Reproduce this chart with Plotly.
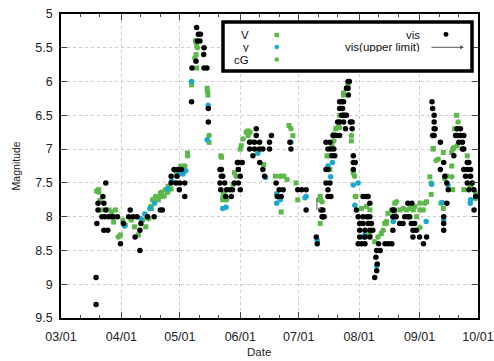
import pandas as pd
import plotly.graph_objects as go

BASE = "2021-03-01"
MONTH_TICKS = ["2021-03-01", "2021-04-01", "2021-05-01", "2021-06-01",
               "2021-07-01", "2021-08-01", "2021-09-01", "2021-10-01"]
MINOR_TICKS = [f"2021-{m:02d}-{d}" for m in range(3, 10) for d in (11, 21)]
Y_TICKS = [5, 5.5, 6, 6.5, 7, 7.5, 8, 8.5, 9, 9.5]

# day offsets from 03/01 and magnitudes
vis_day = [18, 18, 23, 19, 19, 21.5, 22, 23, 21, 22.5, 24.5, 26, 18.4, 22, 24, 27, 29, 30.5, 32,
           35.5, 34.7, 37, 38, 40.5, 40.5, 41, 39, 44.4, 47.8, 51, 52, 56.5, 56.5, 59, 61, 63.5,
           60.7, 61.8, 63.5, 60, 58, 59.5,
           69.6, 70.5, 71.5, 70, 71.3, 73.4, 73.2, 69.3, 67.2, 73.4, 74.9, 67, 75.6, 75.6,
           81.6, 81.6, 82, 83, 84, 85, 86.6, 84.5, 87.4, 88, 82.3, 82.3, 89, 91, 90.5, 91, 92, 93, 91, 92,
           100.2, 100.2, 96.8, 99.3, 101.9, 96.8, 99.3, 101.9, 103.6, 98.5, 102, 103.6, 104.5, 108, 107,
           107, 110.4, 112, 114, 111, 113, 118, 117.5, 121.5, 123.5, 125.8, 125.8, 133.4, 134, 135, 131,
           131.5,
           136, 138, 137, 138.5, 140, 139.6, 141.3, 143, 139, 140.5, 136, 137, 136, 138, 137, 137, 138.5,
           134.4, 134.4, 142, 143, 143, 144, 145, 143, 144.5, 145, 146.5, 144, 145.5, 145, 146, 147.5,
           147.3, 148, 147.3, 146.5, 148.5, 149.4, 149.4, 150, 150, 150, 151,
           151.6, 152.5, 155, 157, 158.5, 153.3, 155, 157.6, 159.3, 153.3, 156, 158.5, 160, 153.3, 156,
           158.5, 152.5, 154.2, 156, 155, 156.7, 157.6, 158.5, 162, 161.6, 162.3, 162, 161, 163, 163.8,
           166.3, 168, 169.8, 170.3, 170.3, 170.3, 171, 172, 173.8, 175.5, 176.4, 178, 179, 178, 179.8,
           181.5, 180.6, 182.3, 180.6, 184, 186, 187.6, 180,
           190.4, 190.7, 191.5, 191.5, 192, 191.5, 190.7, 191.5, 194.7, 194.7, 196.4, 197, 198, 198.7,
           196.4, 196.4, 196.4, 198, 201.6, 202.5, 203.3, 205, 206.7, 203.3, 205, 204.2, 206, 206, 206.7,
           208.5, 209.3, 206.7, 208.5, 210.2, 207.6, 210.2, 208.5, 211, 209.3, 211.9, 212.8, 212]
vis_mag = [8.9, 9.3, 7.5, 7.8, 7.9, 7.7, 7.8, 7.9, 8.0, 8.0, 8.0, 8.0, 8.1, 8.2, 8.2, 8.0, 8.0, 8.4, 8.1,
           7.9, 8.0, 8.0, 8.3, 8.2, 8.5, 8.1, 8.0, 8.0, 8.0, 7.9, 7.9, 7.4, 7.5, 7.5, 7.5, 7.5,
           7.6, 7.3, 7.7, 7.3, 7.3, 7.4,
           5.2, 5.3, 5.3, 5.4, 5.4, 5.5, 5.6, 5.7, 5.8, 5.8, 5.8, 6.3, 6.4, 6.6,
           7.3, 7.5, 7.6, 7.4, 7.5, 7.6, 7.6, 7.7, 7.7, 7.6, 7.3, 7.4, 7.5, 7.5, 7.2, 7.3, 7.4, 7.2, 7.2, 7.6,
           6.7, 6.8, 6.9, 6.9, 6.9, 7.0, 7.0, 7.0, 7.0, 7.1, 7.2, 7.3, 7.4, 6.8, 6.9,
           7.0, 7.5, 7.6, 7.6, 7.7, 7.7, 7.0, 6.9, 7.6, 7.6, 7.6, 7.9, 7.9, 8.0, 8.0, 8.3,
           8.4,
           6.9, 6.9, 7.0, 7.0, 7.0, 6.8, 6.8, 6.8, 7.1, 7.1, 7.3, 7.3, 7.5, 7.5, 7.6, 7.7, 7.7,
           7.9, 8.0, 6.6, 6.6, 6.3, 6.3, 6.3, 6.4, 6.4, 6.5, 6.5, 6.5, 6.5, 6.6, 6.7, 6.2,
           6.0, 6.0, 6.1, 6.1, 6.6, 6.6, 6.7, 7.1, 7.2, 7.3, 7.2,
           7.9, 8.0, 8.0, 8.0, 8.0, 8.1, 8.1, 8.1, 8.1, 8.2, 8.2, 8.2, 8.2, 8.3, 8.3,
           8.3, 8.4, 8.4, 8.4, 7.7, 7.7, 7.7, 7.8, 8.5, 8.6, 8.7, 8.8, 8.9, 8.4, 8.5,
           8.4, 8.4, 8.4, 8.2, 8.0, 7.9, 7.9, 8.0, 8.1, 8.1, 8.0, 8.0, 8.0, 7.8, 8.1,
           8.1, 8.2, 8.2, 8.3, 8.3, 8.4, 8.3, 7.8,
           6.3, 6.4, 6.5, 6.6, 6.7, 6.7, 6.8, 6.8, 6.9, 7.3, 7.2, 7.4, 7.5, 7.6,
           8.0, 8.1, 8.2, 7.8, 7.1, 6.8, 6.8, 6.8, 6.8, 6.7, 6.7, 6.9, 6.9, 7.0, 7.0,
           7.2, 7.2, 7.3, 7.3, 7.3, 7.4, 7.4, 7.5, 7.5, 7.6, 7.6, 7.7, 7.9]

V_day = [19.3, 20, 21, 24.6, 27, 28, 30.5, 31.7, 36, 37.7, 39.7, 43.5, 46.4, 49.7, 53, 56.5, 59, 61.5,
         64.9, 18.3, 44, 47, 50, 52, 55,
         69.6, 69, 69.3, 69.6, 67, 75, 75.4, 76, 65, 82,
         82.4, 84, 83, 89, 91, 83.1, 88.3,
         92.5, 95, 97, 97.5, 104, 110, 114.3, 113, 117, 119, 120.6, 121.5, 132.5, 92, 96,
         133, 133, 136.5, 138, 139, 140, 141, 143, 145, 146.5, 149, 150, 151.3, 154.2, 158.5,
         157.6, 161, 164.4, 166.1, 167.8, 171.3, 173.9, 177.3, 180.8, 182.5, 185.9, 187.6, 189.3,
         191, 196.2, 197.9, 200.5, 196.2, 184.2, 195, 201, 190,
         203, 202, 201.6, 208.5, 206.7, 212.8, 191, 200.5]
V_mag = [7.6, 7.76, 7.9, 7.9, 8.08, 7.9, 8.27, 8.05, 8.05, 8.15, 8.27, 8.15, 7.88, 7.71, 7.69, 7.59,
         7.34, 7.25, 7.06, 7.62, 8.0, 7.75, 7.75, 7.7, 7.55,
         5.45, 5.4, 5.6, 5.8, 6.05, 6.1, 6.2, 6.9, 7.1, 7.1,
         7.12, 7.7, 7.75, 7.35, 7.3, 7.71, 7.52,
         6.95, 6.75, 6.75, 6.89, 7.23, 7.4, 7.4, 7.93, 6.65, 6.8, 7.5, 7.75, 7.75, 7.0, 6.73,
         7.7, 8.1, 7.1, 7.3, 6.95, 6.78, 6.7, 6.5, 6.2, 6.1, 6.88, 7.35, 7.7, 7.88, 7.9,
         8.27, 8.37, 8.25, 8.1, 7.95, 7.8, 7.9, 7.9, 7.9, 8.0, 7.9, 7.78, 7.41,
         7.0, 7.05, 7.4, 7.25, 7.88, 7.8, 7.8, 7.6, 7.67,
         6.5, 6.7, 6.98, 7.1, 7.6, 7.65, 6.99, 7.05]

cG_day = [19.3, 26, 33, 42, 45, 48, 51.5, 54.8, 63.5, 46, 48.5, 51, 53.5, 29.4,
          70, 68.7, 75.2, 76,
          83.5, 85, 90, 84.8,
          93.4, 96, 112.5, 116, 118, 133, 134,
          137.3, 140, 142, 143, 145, 147.3, 149, 150.7, 156.7, 151, 157.5,
          158.5, 162.7, 165.3, 167, 169.6, 172.2, 175.6, 179, 181.6, 184.2, 186.8, 193.6, 197,
          200.5, 167, 171, 184.2, 190,
          203.8, 203.3, 210.2, 212.8, 192.5, 201]
cG_mag = [7.64, 7.93, 8.12, 8.05, 8.03, 7.78, 7.64, 7.64, 7.25, 7.85, 7.7, 7.65, 7.6, 8.3,
          5.5, 5.65, 6.15, 6.8,
          7.66, 7.75, 7.4, 7.73,
          6.85, 6.8, 7.4, 7.45, 6.7, 7.75, 7.78,
          7.1, 6.88, 6.68, 6.68, 6.17, 6.05, 6.8, 7.4, 7.85, 7.7, 8.0,
          8.27, 8.3, 8.2, 8.07, 7.9, 7.78, 7.88, 7.88, 7.85, 7.9, 7.8, 7.15, 7.44,
          7.41, 8.1, 7.94, 8.16, 7.5,
          6.6, 6.95, 7.55, 7.73, 7.17, 7.0]

y_day = [32.7, 41, 43, 45.6, 48, 54.8, 60.7, 64, 56.8, 62.6,
         67, 75.5, 75, 83, 84.7, 101, 105, 110.7, 110.7, 112.5, 118, 125.2, 125.8, 131.5,
         137, 138.4, 139.3, 150, 150.8, 152.5, 155, 155.8, 162, 170.5, 187.4, 190.2, 195.6,
         196.4, 198.6, 209.3, 210.2, 210]
y_mag = [8.14, 8.03, 7.96, 7.88, 7.8, 7.59, 7.37, 7.32, 7.47, 7.37,
         6.0, 6.35, 6.86, 7.88, 7.86, 7.06, 7.42, 7.66, 7.8, 7.75, 6.9, 7.72, 7.7, 8.35,
         7.25, 7.41, 7.2, 7.53, 7.83, 7.5, 8.3, 8.27, 8.73, 8.07, 8.07, 7.52, 7.79,
         8.05, 7.53, 7.4, 7.75, 7.8]

ul_day = [131.3]
ul_mag = [7.7]

GREEN = "#5cb84a"
CYAN = "#1ba8cf"


def to_dates(days):
    return pd.Timestamp(BASE) + pd.to_timedelta(days, unit="D")


fig = go.Figure()
fig.add_trace(go.Scatter(x=to_dates(V_day), y=V_mag, mode="markers", name="V",
                         marker=dict(symbol="square", size=5, color=GREEN)))
fig.add_trace(go.Scatter(x=to_dates(cG_day), y=cG_mag, mode="markers", name="cG",
                         marker=dict(symbol="circle", size=5.5, color=GREEN)))
fig.add_trace(go.Scatter(x=to_dates(y_day), y=y_mag, mode="markers", name="y",
                         marker=dict(symbol="circle", size=5.5, color=CYAN)))
fig.add_trace(go.Scatter(x=to_dates(vis_day), y=vis_mag, mode="markers", name="vis",
                         marker=dict(symbol="circle", size=5.5, color="black")))

# upper limit mark (pointing to fainter)
for d, m in zip(ul_day, ul_mag):
    dt = to_dates([d])[0]
    fig.add_annotation(x=dt, y=m + 0.2, ax=dt, ay=m, xref="x", yref="y", axref="x", ayref="y",
                       showarrow=True, arrowhead=0, arrowwidth=1.2, arrowcolor="#777", text="")
    fig.add_annotation(x=dt + pd.Timedelta(days=2), y=m + 0.18, ax=dt, ay=m + 0.18,
                       xref="x", yref="y", axref="x", ayref="y",
                       showarrow=True, arrowhead=0, arrowwidth=1.2, arrowcolor="#777", text="")

TICKFONT = dict(family="Liberation Sans", size=12.5, color="#222")

fig.update_xaxes(type="date", range=[MONTH_TICKS[0], MONTH_TICKS[-1]], automargin=False,
                 tickmode="array", tickvals=MONTH_TICKS, tickformat="%m/%d",
                 ticks="inside", ticklen=6, tickwidth=1, tickcolor="#444",
                 showline=True, linecolor="black", linewidth=1.5, mirror="ticks",
                 showgrid=True, gridcolor="#cccccc", griddash="dot", gridwidth=1,
                 zeroline=False, tickfont=TICKFONT, ticklabelstandoff=6,
                 minor=dict(tickmode="array", tickvals=MINOR_TICKS, ticks="inside",
                            ticklen=3, tickcolor="#444", showgrid=False))
fig.update_yaxes(range=[9.5, 5], tickmode="array", tickvals=Y_TICKS, automargin=False,
                 ticks="inside", ticklen=6, tickwidth=1, tickcolor="#444",
                 showline=True, linecolor="black", linewidth=1.5, mirror="ticks",
                 showgrid=True, gridcolor="#cccccc", griddash="dot", gridwidth=1,
                 zeroline=False, tickfont=TICKFONT, ticklabelstandoff=4)

# axis titles
fig.add_annotation(text="Magnitude", xref="paper", yref="paper", x=-0.107, y=0.5,
                   textangle=-90, showarrow=False, xanchor="center", yanchor="middle",
                   font=dict(family="Liberation Sans", size=10.5, color="#222"))
fig.add_annotation(text="Date", xref="paper", yref="paper", x=0.476, y=-0.112,
                   showarrow=False, xanchor="center", yanchor="middle",
                   font=dict(family="Liberation Sans", size=11.5, color="#222"))

# custom legend
PX_L, PX_W, PX_T, PX_H = 61, 417, 14, 304


def px(xp):
    return (xp - PX_L) / PX_W


def py(yp):
    return (PX_T + PX_H - yp) / PX_H


fig.add_shape(type="rect", xref="paper", yref="paper", x0=px(223), x1=px(472), y0=py(71), y1=py(22),
              line=dict(color="black", width=3.5), fillcolor="white", layer="above")
LFONT = dict(family="Liberation Sans", size=11.5, color="#111")
left_items = [("V", 35, GREEN, "square"), ("y", 47, CYAN, "circle"), ("cG", 59.5, GREEN, "circle")]
for label, yy, col, sym in left_items:
    fig.add_annotation(text=label, xref="paper", yref="paper", x=px(251), y=py(yy),
                       xanchor="right", yanchor="middle", showarrow=False, font=LFONT,
                       height=11, valign="middle")
    fig.add_shape(type="rect" if sym == "square" else "circle", xref="paper", yref="paper",
                  x0=px(274.5), x1=px(279), y0=py(yy + 2.2), y1=py(yy - 2.2),
                  line=dict(width=0), fillcolor=col, layer="above")
fig.add_annotation(text="vis", xref="paper", yref="paper", x=px(422), y=py(34.5),
                   xanchor="right", yanchor="middle", showarrow=False, font=LFONT,
                   height=11, valign="middle")
fig.add_annotation(text="vis(upper limit)", xref="paper", yref="paper", x=px(422), y=py(47),
                   xanchor="right", yanchor="middle", showarrow=False, font=LFONT,
                   height=11, valign="middle")
fig.add_shape(type="circle", xref="paper", yref="paper", x0=px(443.5), x1=px(448.5),
              y0=py(36.8), y1=py(32), line=dict(width=0), fillcolor="black", layer="above")
fig.add_annotation(x=px(464), y=py(47.3), ax=-34, ay=0, xref="paper", yref="paper",
                   showarrow=True, arrowhead=2, arrowsize=0.8,
                   arrowwidth=1, arrowcolor="#555", text="")

fig.update_layout(width=494, height=361, margin=dict(l=61, r=16, t=14, b=43, autoexpand=False),
                  paper_bgcolor="white", plot_bgcolor="white", showlegend=False,
                  font=dict(family="Liberation Sans"))

fig.write_html("out.html", config={"displayModeBar": False},
               post_script="document.body.style.margin='0px';document.body.style.padding='0px';")
